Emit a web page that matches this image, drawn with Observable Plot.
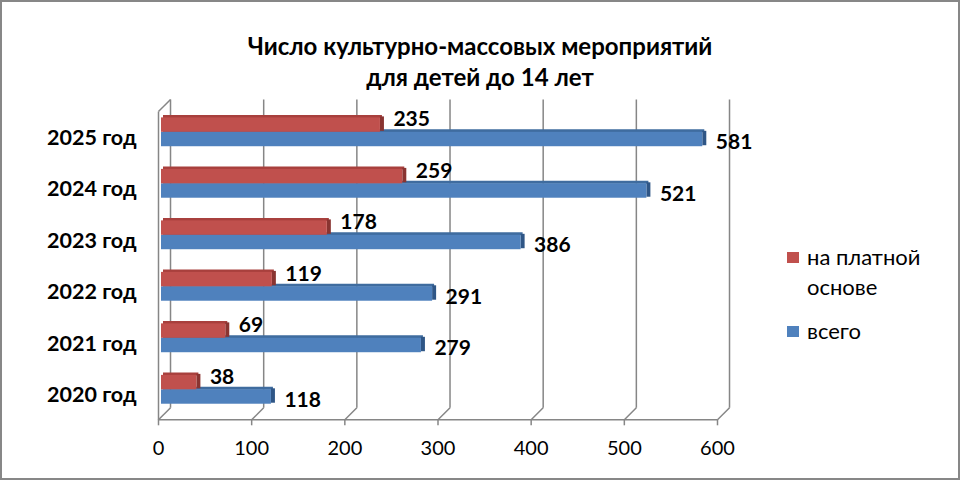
<!DOCTYPE html>
<html>
<head>
<meta charset="utf-8">
<script src="https://cdn.jsdelivr.net/npm/d3@7"></script>
<script src="https://cdn.jsdelivr.net/npm/@observablehq/plot@0.6"></script>
<style>
  html, body { margin: 0; padding: 0; background: #fff; }
  #wrap { position: relative; width: 960px; height: 480px; overflow: hidden; font-family: Lato, "Open Sans", sans-serif; }
  #border { position: absolute; left: 0; top: 0; width: 960px; height: 480px; box-sizing: border-box; border: 2px solid #878787; pointer-events: none; }
  #title { position: absolute; left: 0; top: 30px; width: 960px; text-align: center; font-weight: bold; font-size: 24px; line-height: 31px; color: #000; }
  #chart { position: absolute; left: 0; top: 0; }
  .leg { position: absolute; font-size: 22px; line-height: 30px; color: #000; }
  .sw { position: absolute; width: 12px; height: 11px; }
</style>
</head>
<body>
<div id="wrap">
  <div id="chart"></div>
  <div id="title"></div>
  <div id="legend"></div>
  <div id="border"></div>
</div>
<script>
// ---- data ----
const titleLines = ["Число культурно-массовых мероприятий", "для детей до 14 лет"];
const categories = ["2020 год", "2021 год", "2022 год", "2023 год", "2024 год", "2025 год"];
const paid  = [38, 69, 119, 178, 259, 235];   // на платной основе
const total = [118, 279, 291, 386, 521, 581]; // всего
const xTicks = [0, 100, 200, 300, 400, 500, 600];
const seriesNames = ["на платной\nоснове", "всего"];
const seriesColors = ["#C0504D", "#4F81BD"];

// ---- structure ----
const rows = categories.map((c, i) => ({cat: c, row: i, paid: paid[i], total: total[i]}));
const Y0 = -0.5825, YTOP = 5.404;   // floor front edge / wall top (front plane)
const DX = 12.9, DY = 0.233;        // wall depth in data units
const BAR_H = 0.28;
const grid = "#868686";

const chart = Plot.plot({
  width: 960,
  height: 480,
  marginLeft: 158,
  marginRight: 243,
  marginTop: 99,
  marginBottom: 60.7,
  x: {domain: [0, 600], range: [158, 717]},
  y: {domain: [Y0, YTOP + DY], range: [419.3, 99], axis: null},
  style: {fontFamily: "Lato, 'Open Sans', sans-serif", color: "#000", background: "transparent"},
  marks: [
    // back wall gridlines
    Plot.link(xTicks, {x1: d => d + DX, x2: d => d + DX, y1: Y0 + DY, y2: YTOP + DY, stroke: grid, strokeWidth: 1.5}),
    // floor diagonals
    Plot.link(xTicks, {x1: d => d, y1: Y0, x2: d => d + DX, y2: Y0 + DY, stroke: grid, strokeWidth: 1.5}),
    // left wall front edge and top diagonal
    Plot.link([0], {x1: 0, x2: 0, y1: Y0, y2: YTOP, stroke: grid, strokeWidth: 1.5}),
    Plot.link([0], {x1: 0, x2: DX, y1: YTOP, y2: YTOP + DY, stroke: grid, strokeWidth: 1.5}),
    // front floor edge
    Plot.link([0], {x1: 0, x2: 600, y1: Y0, y2: Y0, stroke: grid, strokeWidth: 1.5}),
    Plot.axisX({ticks: xTicks, tickSize: 6, tickPadding: 15, fontSize: 20, stroke: grid, strokeWidth: 1.5, color: "#000", tickFormat: d => String(d)}),

    // blue bars (всего)
    Plot.link(rows, {x1: 0, x2: "total", y1: "row", y2: "row", stroke: "#3F6C9F", strokeWidth: 3, dx: 4.5, dy: -1.5}),
    Plot.link(rows, {x1: "total", x2: "total", y1: d => d.row - BAR_H, y2: "row", stroke: "#2F5686", strokeWidth: 4, dx: 4.5, dy: -1.5}),
    Plot.rect(rows, {x1: 0, x2: "total", y1: d => d.row - BAR_H, y2: "row", fill: seriesColors[1], dx: 3}),
    // red bars (на платной основе)
    Plot.link(rows, {x1: 0, x2: "paid", y1: d => d.row + BAR_H, y2: d => d.row + BAR_H, stroke: "#A8403D", strokeWidth: 3, dx: 4.5, dy: -1.5}),
    Plot.link(rows, {x1: "paid", x2: "paid", y1: "row", y2: d => d.row + BAR_H, stroke: "#893431", strokeWidth: 4, dx: 4.5, dy: -1.5}),
    Plot.rect(rows, {x1: 0, x2: "paid", y1: "row", y2: d => d.row + BAR_H, fill: seriesColors[0], dx: 3}),

    // value labels
    Plot.text(rows, {x: "paid", y: "row", text: d => String(d.paid), dx: 16, dy: -13, textAnchor: "start", fontWeight: "bold", fontSize: 21, fill: "#000"}),
    Plot.text(rows, {x: "total", y: "row", text: d => String(d.total), dx: 16, dy: 10, textAnchor: "start", fontWeight: "bold", fontSize: 21, fill: "#000"}),
    // category labels
    Plot.text(rows, {x: 0, y: "row", text: "cat", dx: -22, dy: 5.5, textAnchor: "end", fontWeight: "bold", fontSize: 21.5, fill: "#000"})
  ]
});
document.getElementById("chart").appendChild(chart);

// title
document.getElementById("title").innerHTML = titleLines.join("<br>");

// legend
const legend = document.getElementById("legend");
const legTops = [242, 316];
seriesNames.forEach((name, i) => {
  const sw = document.createElement("div");
  sw.className = "sw";
  sw.style.left = "787px";
  sw.style.top = (legTops[i] + 10) + "px";
  sw.style.background = seriesColors[i];
  legend.appendChild(sw);
  const t = document.createElement("div");
  t.className = "leg";
  t.style.left = "807px";
  t.style.top = legTops[i] + "px";
  t.innerHTML = name.split("\n").join("<br>");
  legend.appendChild(t);
});
</script>
</body>
</html>
